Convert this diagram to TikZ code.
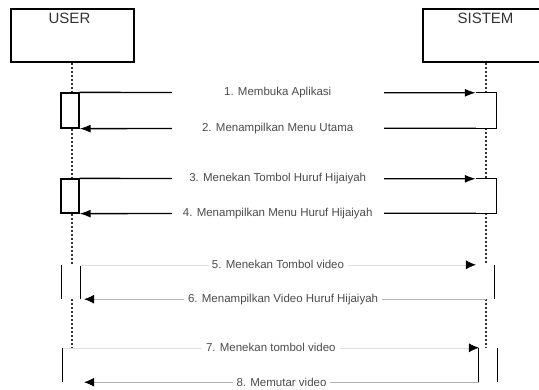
\documentclass[tikz,border=0pt]{standalone}
\usepackage{fontspec}
\setmainfont{Liberation Sans}
\usetikzlibrary{arrows.meta}
\begin{document}
\begin{tikzpicture}[x=1pt,y=-1pt,
  headbox/.style={draw, line width=1.3pt, minimum width=#1, minimum height=53pt, inner sep=0pt},
  headtext/.style={text=black!80, font=\fontsize{15}{15}\selectfont, inner sep=0pt},
  actnode/.style={minimum width=#1, inner sep=0pt},
  actline/.style={line width=1.3pt},
  lifeline/.style={line width=1.1pt, black!80, dash pattern=on 2pt off 2pt},
  msgstrong/.style={line width=1.3pt, -{Latex[length=11pt,width=8pt]}},
  msgfaint/.style={line width=0.6pt, black!30, -{Latex[length=10pt,width=9pt,color=black]}},
  msgghost/.style={line width=0.5pt, black!12, -{Latex[length=10pt,width=9pt,color=black]}},
  msglabel/.style={fill=white, text=black!70, font=\fontsize{11.5}{12}\selectfont, inner ysep=1pt, inner xsep=4pt},
  widelabel/.style={msglabel, minimum width=212pt},
]
\useasboundingbox (0,0) rectangle (539,389);

% object heads
\node[headbox=123pt] (userhead) at (72.5,35.5) {};
\node[headbox=118pt] (sistemhead) at (482,35.5) {};
\node[headtext] (userlbl) at (69.5,18) {USER};
\node[headtext] (sistemlbl) at (485.5,18) {SISTEM};

% lifeline axes
\coordinate (ux) at (72,0);
\coordinate (sx) at (486,0);

% activation bars
\node[actnode=18pt, minimum height=35pt, draw, actline] (a1u) at (70,110.5) {};
\node[actnode=20pt, minimum height=35pt] (a1s) at (486,110.5) {};
\node[actnode=18pt, minimum height=34pt, draw, actline] (a2u) at (70,196) {};
\node[actnode=20pt, minimum height=34pt] (a2s) at (486,196) {};
\node[actnode=18pt, minimum height=34pt] (a3u) at (71,282) {};
\node[actnode=18pt, minimum height=34pt] (a3s) at (485,282) {};
\node[actnode=21pt, minimum height=34pt] (a4u) at (73.5,365) {};
\node[actnode=18pt, minimum height=34pt] (a4s) at (488,365) {};

% lifelines between activations
\draw[lifeline] (ux |- userhead.south) -- (ux |- a1u.north)
                (ux |- a1u.south) -- (ux |- a2u.north)
                (ux |- a2u.south) -- (ux |- a3u.north)
                (ux |- a3u.south) -- (ux |- a4u.north);
\draw[lifeline] (sx |- sistemhead.south) -- (sx |- a1s.north)
                (sx |- a1s.south) -- (sx |- a2s.north)
                (sx |- a2s.south) -- (sx |- a3s.north)
                (sx |- a3s.south) -- (sx |- a4s.north);

% activation outlines on the system side and the later bars
\draw[actline] (a1s.north west) -- (a1s.north east) -- (a1s.south east) -- (a1s.south west);
\draw[actline] (a2s.north west) -- (a2s.north east) -- (a2s.south east) -- (a2s.south west);
\draw[actline] (a3u.north west) -- (a3u.south west) (a3u.north east) -- (a3u.south east);
\draw[actline] (a3s.north east) -- (a3s.south east);
\draw[actline] (a4u.north west) -- (a4u.south west);
\draw[actline] (a4s.north west) -- (a4s.south west) (a4s.north east) -- (a4s.south east);

% messages
\draw[msgstrong] (a1u.north east) -- node[widelabel] {1. Membuka Aplikasi} (a1s.north west);
\draw[msgstrong] (a1s.south west) -- node[widelabel] {2. Menampilkan Menu Utama} (a1u.south east);
\draw[msgstrong] (a2u.north east) -- node[widelabel] {3. Menekan Tombol Huruf Hijaiyah} (a2s.north west);
\draw[msgstrong] (a2s.south west) -- node[widelabel] {4. Menampilkan Menu Huruf Hijaiyah} (a2u.south east);
\draw[msgghost] (a3u.north east) -- node[msglabel] {5. Menekan Tombol video} (a3s.north west);
\draw[msgfaint, shorten >=4pt] (sx |- a3s.south) -- node[msglabel] {6. Menampilkan Video Huruf Hijaiyah} (a3u.south east);
\draw[msgghost] (a4u.north west) -- node[msglabel] {7. Menekan tombol video} (a4s.north west);
\draw[msgfaint] (a4s.south west) -- node[msglabel] {8. Memutar video} (a4u.south east);
\end{tikzpicture}
\end{document}
